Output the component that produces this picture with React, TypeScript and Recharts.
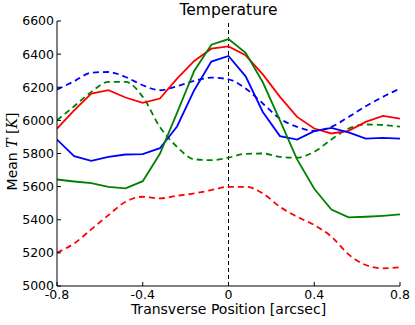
import React from 'react';
import { Label, Line, LineChart, ReferenceLine, XAxis, YAxis } from 'recharts';

// transverse positions (arcsec), sampled every 0.08
const positions = [
  -0.8, -0.72, -0.64, -0.56, -0.48, -0.4, -0.32, -0.24, -0.16, -0.08, 0,
  0.08, 0.16, 0.24, 0.32, 0.4, 0.48, 0.56, 0.64, 0.72, 0.8,
];

const redSolid = [5950, 6060, 6162, 6182, 6138, 6106, 6132, 6252, 6359, 6433, 6447, 6393, 6278, 6142, 6021, 5951, 5921, 5937, 5991, 6027, 6011];
const blueSolid = [5884, 5784, 5756, 5780, 5794, 5796, 5832, 5963, 6182, 6355, 6389, 6266, 6051, 5905, 5884, 5935, 5955, 5927, 5890, 5894, 5890];
const greenSolid = [5643, 5631, 5621, 5599, 5589, 5633, 5798, 6045, 6298, 6457, 6491, 6408, 6230, 6000, 5764, 5587, 5462, 5414, 5418, 5424, 5432];
const redDashed = [5201, 5257, 5342, 5428, 5509, 5539, 5529, 5545, 5559, 5579, 5599, 5599, 5559, 5478, 5418, 5368, 5298, 5191, 5127, 5107, 5113];
const blueDashed = [6186, 6236, 6288, 6292, 6262, 6212, 6182, 6206, 6238, 6258, 6248, 6192, 6102, 6011, 5961, 5937, 5961, 6021, 6085, 6142, 6192];
const greenDashed = [6001, 6085, 6172, 6232, 6232, 6142, 5960, 5840, 5765, 5760, 5775, 5798, 5800, 5780, 5775, 5810, 5885, 5950, 5975, 5972, 5962];

const xTicks = [-0.8, -0.4, 0, 0.4, 0.8];
const yTicks = [5000, 5200, 5400, 5600, 5800, 6000, 6200, 6400, 6600];

const data = positions.map((x, i) => ({
  x,
  redSolid: redSolid[i],
  blueSolid: blueSolid[i],
  greenSolid: greenSolid[i],
  redDashed: redDashed[i],
  blueDashed: blueDashed[i],
  greenDashed: greenDashed[i],
}));

const font = '"DejaVu Sans", sans-serif';
const TICK_LEN = 4;

const fmtX = (v: number) => (v === 0 ? '0' : String(v));

const BottomTick = (props: any) => {
  const { x, y, payload } = props;
  return (
    <g>
      <line x1={x} y1={y - 4} x2={x} y2={y - 4 - TICK_LEN} stroke="#000" />
      <text x={x} y={y} dy="0.71em" textAnchor="middle" fontSize={12.5} fontFamily={font} fill="#000">
        {fmtX(payload.value)}
      </text>
    </g>
  );
};

const LeftTick = (props: any) => {
  const { x, y, payload } = props;
  return (
    <g>
      <line x1={x + 3} y1={y} x2={x + 3 + TICK_LEN} y2={y} stroke="#000" />
      <text x={x} y={y} dy="0.355em" textAnchor="end" fontSize={12.5} fontFamily={font} fill="#000">
        {payload.value}
      </text>
    </g>
  );
};

const TopTick = (props: any) => {
  const { x, y } = props;
  return <line x1={x} y1={y} x2={x} y2={y + TICK_LEN} stroke="#000" />;
};

const RightTick = (props: any) => {
  const { x, y } = props;
  return <line x1={x} y1={y} x2={x - TICK_LEN} y2={y} stroke="#000" />;
};

const YTitle = (props: any) => {
  const vb = props.viewBox || {};
  const cx = (vb.x || 0) + 16.5;
  const cy = (vb.y || 0) + (vb.height || 0) / 2 - 2;
  return (
    <text
      x={cx}
      y={cy}
      transform={`rotate(-90 ${cx} ${cy})`}
      textAnchor="middle"
      fontSize={14}
      fontFamily={font}
      fill="#000"
    >
      Mean{' '}
      <tspan fontFamily='"DejaVu Serif", serif' fontStyle="italic">T</tspan>
      {' '}
      <tspan fontFamily='"DejaVu Serif", serif'>[</tspan>
      <tspan fontFamily='"DejaVu Serif", serif' fontStyle="italic">K</tspan>
      <tspan fontFamily='"DejaVu Serif", serif'>]</tspan>
    </text>
  );
};

const App = () => {
  return (
    <div style={{ position: 'absolute', left: 0, top: 0, width: 415, height: 325, background: '#fff' }}>
      <div
        style={{
          position: 'absolute',
          left: 57,
          top: 0,
          width: 343,
          textAlign: 'center',
          fontFamily: font,
          fontSize: 15.5,
          lineHeight: '20px',
          color: '#000',
        }}
      >
        Temperature
      </div>
      <LineChart width={415} height={325} data={data} margin={{ top: 21, right: 15, bottom: 0, left: 0 }}>
        <XAxis
          dataKey="x"
          type="number"
          domain={[-0.8, 0.8]}
          ticks={xTicks}
          interval={0}
          height={39}
          tickSize={0}
          tickMargin={4}
          tickLine={false}
          axisLine={{ stroke: '#000' }}
          tick={<BottomTick />}
          allowDataOverflow
        >
          <Label
            value="Transverse Position [arcsec]"
            position="insideBottom"
            offset={11}
            fontSize={14}
            fontFamily={font}
            fill="#000"
          />
        </XAxis>
        <XAxis
          xAxisId="top"
          dataKey="x"
          orientation="top"
          type="number"
          domain={[-0.8, 0.8]}
          ticks={xTicks}
          interval={0}
          height={0}
          tickSize={0}
          tickMargin={0}
          tickLine={false}
          axisLine={{ stroke: '#000' }}
          tick={<TopTick />}
          allowDataOverflow
        />
        <YAxis
          type="number"
          domain={[5000, 6600]}
          ticks={yTicks}
          interval={0}
          width={57}
          tickSize={0}
          tickMargin={3}
          tickLine={false}
          axisLine={{ stroke: '#000' }}
          tick={<LeftTick />}
          allowDataOverflow
        >
          <Label content={<YTitle />} />
        </YAxis>
        <YAxis
          yAxisId="right"
          orientation="right"
          type="number"
          domain={[5000, 6600]}
          ticks={yTicks}
          interval={0}
          width={0}
          tickSize={0}
          tickMargin={0}
          tickLine={false}
          axisLine={{ stroke: '#000' }}
          tick={<RightTick />}
          allowDataOverflow
        />
        <ReferenceLine x={0} stroke="#000" strokeWidth={1} strokeDasharray="4 3" />
        <Line type="monotone" dataKey="blueDashed" stroke="#0000ff" strokeWidth={1.8} strokeDasharray="6 4" dot={false} activeDot={false} isAnimationActive={false} />
        <Line type="monotone" dataKey="greenDashed" stroke="#008000" strokeWidth={1.8} strokeDasharray="6 4" dot={false} activeDot={false} isAnimationActive={false} />
        <Line type="monotone" dataKey="redDashed" stroke="#ff0000" strokeWidth={1.8} strokeDasharray="6 4" dot={false} activeDot={false} isAnimationActive={false} />
        <Line type="linear" dataKey="redSolid" stroke="#ff0000" strokeWidth={1.8} dot={false} activeDot={false} isAnimationActive={false} />
        <Line type="linear" dataKey="blueSolid" stroke="#0000ff" strokeWidth={1.8} dot={false} activeDot={false} isAnimationActive={false} />
        <Line type="linear" dataKey="greenSolid" stroke="#008000" strokeWidth={1.8} dot={false} activeDot={false} isAnimationActive={false} />
      </LineChart>
    </div>
  );
};

export default App;
